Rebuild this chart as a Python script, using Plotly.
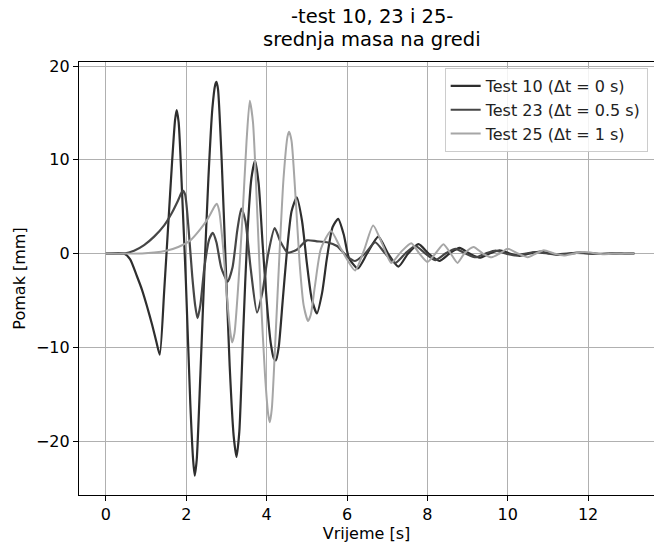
import plotly.graph_objects as go

# ---- data ----
t_test10 = [0, 0.45, 0.6, 0.77, 0.9, 1.02, 1.15, 1.26, 1.34, 1.45, 1.55, 1.65, 1.72, 1.76, 1.81, 1.9,
            1.99, 2.1, 2.17, 2.21, 2.26, 2.35, 2.45, 2.55, 2.65, 2.72, 2.75, 2.79, 2.88, 2.98, 3.08,
            3.18, 3.25, 3.32, 3.42, 3.52, 3.62, 3.71, 3.8, 3.9, 4.0, 4.1, 4.18, 4.23, 4.3, 4.4, 4.5,
            4.62, 4.75, 4.88, 5.0, 5.12, 5.25, 5.38, 5.5, 5.64, 5.78, 5.92, 6.05, 6.27, 6.5, 6.78,
            7.02, 7.28, 7.52, 7.78, 8.03, 8.3, 8.55, 8.8, 9.05, 9.3, 9.55, 9.8, 10.05, 10.3, 10.55,
            10.8, 11.05, 11.3, 11.55, 11.8, 12.3, 12.8, 13.15]
y_test10 = [0, 0, -0.6, -2.4, -3.9, -5.6, -7.6, -9.5, -10.8, -4, 3, 10, 14.2, 15.3, 14, 6,
            -3, -16, -22, -23.7, -22, -13, -2, 8, 15.5, 18, 18.3, 17.5, 10, -1, -12,
            -19.5, -21.7, -19, -8, 2, 8, 9.9, 7.5, 1, -5, -9.5, -11.2, -11.4, -10, -5, 0,
            4.5, 6.0, 3.5, -1, -4.8, -6.4, -4.2, -0.5, 2.8, 3.7, 2, -0.5, -1.6, 0, 1.8,
            0, -1.4, 0, 1.0, 0, -0.8, 0, 0.6, 0, -0.45, 0, 0.35, 0, -0.25, 0,
            0.2, 0, -0.15, 0, 0.1, -0.05, 0.03, 0]

t_test23 = [0, 0.45, 0.7, 0.95, 1.2, 1.45, 1.65, 1.8, 1.91, 1.97, 2.05, 2.15, 2.22, 2.28, 2.35,
            2.45, 2.57, 2.66, 2.75, 2.87, 3.03, 3.15, 3.27, 3.37, 3.47, 3.6, 3.76, 3.9, 4.04, 4.2,
            4.35, 4.52, 4.75, 5.0, 5.25, 5.5, 5.75, 6.0, 6.2, 6.45, 6.7, 6.95, 7.2, 7.45, 7.7,
            7.95, 8.2, 8.45, 8.7, 8.95, 9.2, 9.45, 9.7, 9.95, 10.2, 10.45, 10.7, 11.2, 11.7,
            12.2, 12.7, 13.15]
y_test23 = [0, 0, 0.3, 0.9, 1.8, 3.0, 4.4, 5.7, 6.7, 6.3, 3, -2.5, -5.5, -6.9, -5.5,
            -1.5, 1.5, 2.2, 1.2, -1.5, -3.0, -1.5, 2.5, 4.8, 3.5, -1.5, -6.3, -4, 0, 2.7,
            1.2, 0.1, 0.4, 1.4, 1.3, 1.2, 0.8, -0.3, -0.8, 0, 1.2, 0, -1.0, 0, 0.8,
            0, -0.7, 0, 0.5, 0, -0.4, 0, 0.3, 0, -0.2, 0, 0.15, -0.1, 0.06,
            -0.03, 0.02, 0]

t_test25 = [0, 0.9, 1.2, 1.5, 1.8, 2.1, 2.35, 2.55, 2.7, 2.76, 2.82, 2.92, 3.02, 3.1, 3.14,
            3.2, 3.3, 3.4, 3.5, 3.58, 3.66, 3.76, 3.86, 3.96, 4.04, 4.08, 4.13, 4.22, 4.32,
            4.42, 4.52, 4.56, 4.62, 4.72, 4.82, 4.92, 5.03, 5.1, 5.2, 5.35, 5.6, 5.85, 6.2,
            6.42, 6.65, 6.88, 7.1, 7.35, 7.6, 7.8, 8.0, 8.2, 8.4, 8.58, 8.75, 8.92, 9.15,
            9.38, 9.6, 9.8, 10.0, 10.25, 10.5, 10.7, 10.9, 11.15, 11.4, 11.65, 11.9, 12.4,
            12.9, 13.15]
y_test25 = [0, 0, 0.1, 0.3, 0.7, 1.4, 2.6, 3.8, 5.0, 5.3, 4.5, 0.5, -5, -8.5, -9.5,
            -8.5, -3, 4, 12, 16.3, 14, 5, -5, -13, -17.2, -18, -16.5, -9, 0,
            8, 12.5, 13, 12, 6, -1, -5.5, -7.2, -6.5, -3.5, 0.5, 2.4, 0.5, -1.8,
            0.3, 3.0, 1, -1.0, 0.2, 1.1, 0, -0.9, 0, 1.0, 0, -1.0, 0, 0.7,
            0, -0.4, 0, 0.5, 0, -0.4, 0, 0.35, 0, -0.2, 0, 0.15, -0.08,
            0.04, 0]

series_names = ["Test 10 (Δt = 0 s)", "Test 23 (Δt = 0.5 s)", "Test 25 (Δt = 1 s)"]
title_lines = ["-test 10, 23 i 25-", "srednja masa na gredi"]
x_ticks = [0, 2, 4, 6, 8, 10, 12]
y_ticks = [-20, -10, 0, 10, 20]

FONT = "DejaVu Sans"
FS = 16

fig = go.Figure()
styles = [("#2e2e2e", 2.2), ("#464646", 2.2), ("#a6a6a6", 2.0)]
for name, t, y, (col, w), g in zip(series_names,
                                  [t_test10, t_test23, t_test25],
                                  [y_test10, y_test23, y_test25],
                                  styles, ["a", "b", "c"]):
    fig.add_trace(go.Scatter(x=t, y=y, mode="lines", name=name, legendgroup=g,
                             line=dict(color=col, width=w, shape="spline", smoothing=0.6)))

for txt, yy in zip(title_lines, [1.106, 1.051]):
    fig.add_annotation(text=txt, x=0.509, y=yy, xref="paper", yref="paper",
                       xanchor="center", yanchor="middle", showarrow=False,
                       font=dict(family=FONT, size=19.5, color="black"))

fig.update_layout(
    width=654, height=545,
    margin=dict(l=79, r=0, t=62, b=50, autoexpand=False),
    paper_bgcolor="white", plot_bgcolor="white",
    font=dict(family=FONT, size=FS, color="black"),
    legend=dict(x=0.989, y=0.986, xanchor="right", yanchor="top",
                bgcolor="rgba(255,255,255,0.85)", bordercolor="#cccccc", borderwidth=1,
                font=dict(family=FONT, size=FS, color="#222"), tracegroupgap=0),
    showlegend=True,
)
fig.update_xaxes(range=[-0.67, 13.64], tickvals=x_ticks, ticks="outside", ticklen=5,
                 tickcolor="black", showline=True, linecolor="black", linewidth=1.2,
                 mirror=True, showgrid=True, gridcolor="#b0b0b0", gridwidth=1,
                 zeroline=False, automargin=False,
                 title=dict(text="Vrijeme [s]", standoff=4, font=dict(size=FS)),
                 tickfont=dict(size=FS))
fig.update_yaxes(range=[-25.76, 20.43], tickvals=y_ticks, ticks="outside", ticklen=5,
                 tickcolor="black", showline=True, linecolor="black", linewidth=1.2,
                 mirror=False, showgrid=True, gridcolor="#b0b0b0", gridwidth=1,
                 zeroline=False, automargin=False,
                 title=dict(text="Pomak [mm]", standoff=6, font=dict(size=FS)),
                 tickfont=dict(size=FS))

fig.write_html("out.html", config={"displayModeBar": False},
               post_script="document.body.style.margin='0';document.body.style.overflow='hidden';")
